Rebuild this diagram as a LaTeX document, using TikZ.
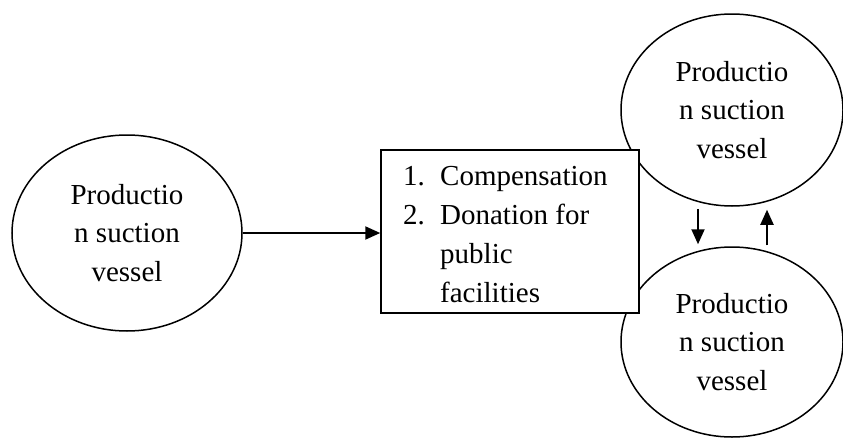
\documentclass[tikz,border=0pt]{standalone}
\usepackage{fontspec}
\setmainfont{Liberation Serif}
\usetikzlibrary{shapes.geometric,arrows.meta}
\tikzset{
  vessel/.style={draw, ellipse, line width=1.5pt, inner sep=0pt, align=center,
    font=\fontsize{29}{38.5}\selectfont},
  listbox/.style={draw, fill=white, rectangle, line width=1.5pt, inner sep=0pt},
  arr/.style={line width=2pt, -{Triangle[length=15pt,width=13pt]}}
}
\begin{document}
\begin{tikzpicture}[x=1pt,y=-1pt]
\useasboundingbox (0,0) rectangle (843,439);
\node[vessel, minimum width=230pt, minimum height=196pt] (left) at (127,233) {Productio\\n suction\\vessel};
\node[vessel, minimum width=222pt, minimum height=192pt] (top) at (732,110) {Productio\\n suction\\vessel};
\node[vessel, minimum width=222pt, minimum height=190pt] (bot) at (732,342) {Productio\\n suction\\vessel};
\node[listbox, minimum width=258pt, minimum height=163pt] (box) at (510,231.5) {};
\node[anchor=north west, inner sep=0pt, font=\fontsize{29}{39}\selectfont] (list) at (403,157.7)
  {\begin{tabular}{@{}p{37pt}@{}l@{}}1. & Compensation\\ 2. & Donation for\\ & public\\ & facilities\end{tabular}};
\draw[arr] (left.east) -- (left.east -| box.west);
\draw[arr] ([xshift=-34pt,yshift=-2pt]top.south) -- ([xshift=-34pt,yshift=2pt]bot.north);
\draw[arr] ([xshift=35pt,yshift=1pt]bot.north) -- ([xshift=35pt,yshift=-3pt]top.south);
\end{tikzpicture}
\end{document}
